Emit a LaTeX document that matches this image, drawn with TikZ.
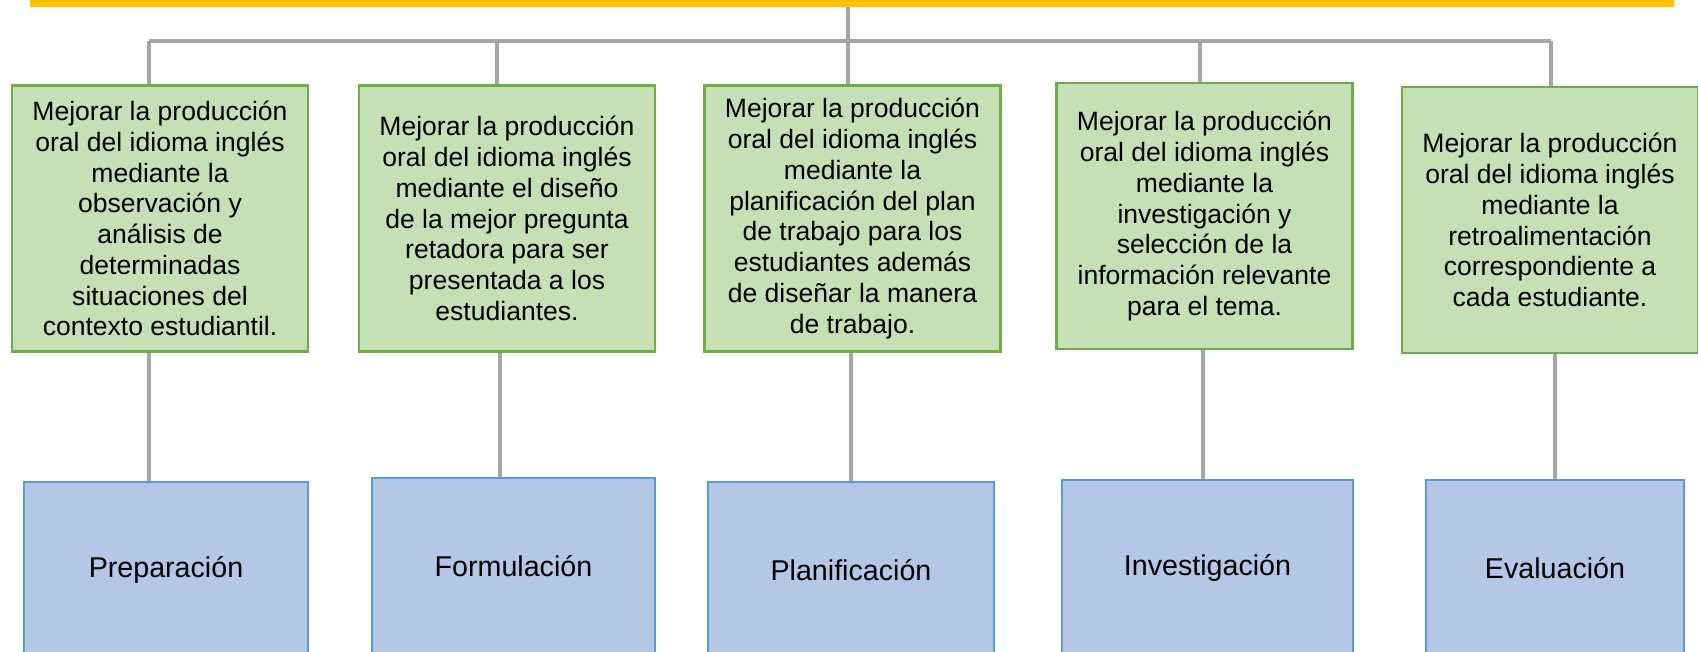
\documentclass[tikz,border=0pt]{standalone}
\usepackage{fontspec}
\setmainfont{Liberation Sans}

\definecolor{oro}{HTML}{FFC000}
\definecolor{gris}{HTML}{A5A5A5}
\definecolor{verdefondo}{HTML}{C5E0B4}
\definecolor{verdeborde}{HTML}{70AD47}
\definecolor{azulfondo}{HTML}{B4C7E7}
\definecolor{azulborde}{HTML}{5B9BD5}

\begin{document}
\begin{tikzpicture}[x=0.02cm, y=-0.02cm,
  objetivo/.style={draw=verdeborde, fill=verdefondo, line width=1.5pt,
    minimum width=5.92cm, minimum height=5.32cm, inner sep=0pt,
    align=center, font=\fontsize{15.1}{17.5}\selectfont},
  etapa/.style={draw=azulborde, fill=azulfondo, line width=1.1pt,
    minimum height=3.52cm, inner sep=0pt, font=\fontsize{16.3}{19}\selectfont},
  rama/.style={draw=gris, line width=2.1pt}]

\useasboundingbox (0,0) rectangle (1698,652);

% barra superior (cortada)
\node [fill=oro, minimum width=32.88cm, minimum height=0.8cm, inner sep=0pt] (top) at (852,-13) {};

% objetivos
\node [objetivo] (g1) at (160,218.5) {Mejorar la producción\\oral del idioma inglés\\mediante la\\observación y\\análisis de\\determinadas\\situaciones del\\contexto estudiantil.};
\node [objetivo] (g2) at (507,218.5) {Mejorar la producción\\oral del idioma inglés\\mediante el diseño\\de la mejor pregunta\\retadora para ser\\presentada a los\\estudiantes.};
\node [objetivo] (g3) at (852.5,218.5) {Mejorar la producción\\oral del idioma inglés\\mediante la\\planificación del plan\\de trabajo para los\\estudiantes además\\de diseñar la manera\\de trabajo.};
\node [objetivo] (g4) at (1204.5,216) {Mejorar la producción\\oral del idioma inglés\\mediante la\\investigación y\\selección de la\\información relevante\\para el tema.};
\node [objetivo] (g5) at (1550,220) {Mejorar la producción\\oral del idioma inglés\\mediante la\\retroalimentación\\correspondiente a\\cada estudiante.};

% etapas
\node [etapa, minimum width=5.68cm] (b1) at (166,570) {Preparación};
\node [etapa, minimum width=5.66cm] (b2) at (513.5,566) {Formulación};
\node [etapa, minimum width=5.72cm] (b3) at (851,570) {Planificación};
\node [etapa, minimum width=5.82cm] (b4) at (1207.5,568) {Investigación};
\node [etapa, minimum width=5.16cm] (b5) at (1555,568) {Evaluación};

% ramas de arriba
\coordinate (j1) at (149,41);
\coordinate (j2) at (497,41);
\coordinate (j3) at (848,41);
\coordinate (j4) at (1200,41);
\coordinate (j5) at (1551,41);

\draw [rama] (top.south -| j3) -- (j3);
\draw [rama] (j1) -- (j5);
\draw [rama] (j1) -- (j1 |- g1.north);
\draw [rama] (j2) -- (j2 |- g2.north);
\draw [rama] (j3) -- (j3 |- g3.north);
\draw [rama] (j4) -- (j4 |- g4.north);
\draw [rama] (j5) -- (j5 |- g5.north);

% ramas de abajo
\coordinate (k1) at (149,420);
\coordinate (k2) at (500,420);
\coordinate (k3) at (851,420);
\coordinate (k4) at (1203,420);
\coordinate (k5) at (1555,420);

\draw [rama] (g1.south -| k1) -- (b1.north -| k1);
\draw [rama] (g2.south -| k2) -- (b2.north -| k2);
\draw [rama] (g3.south -| k3) -- (b3.north -| k3);
\draw [rama] (g4.south -| k4) -- (b4.north -| k4);
\draw [rama] (g5.south -| k5) -- (b5.north -| k5);

\end{tikzpicture}
\end{document}
